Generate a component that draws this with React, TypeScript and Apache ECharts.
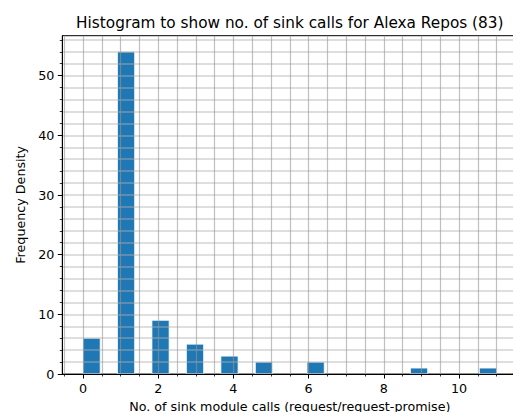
import React, { useEffect, useRef } from 'react';
import * as echarts from 'echarts';

const callCounts = [0, 1, 2, 3, 4, 5, 6, 9, 11];
const frequencies = [6, 54, 9, 5, 3, 2, 2, 1, 1];
const binCount = 24;
const xTickValues = [0, 2, 4, 6, 8, 10];
const yTickValues = [0, 10, 20, 30, 40, 50];
const titleText = 'Histogram to show no. of sink calls for Alexa Repos (83)';
const xName = 'No. of sink module calls (request/request-promise)';
const yName = 'Frequency Density';

const FONT = 'DejaVu Sans';

export default function App() {
  const ref = useRef<HTMLDivElement>(null);
  useEffect(() => {
    const chart = echarts.init(ref.current!, null, { renderer: 'svg' });
    const lo = Math.min(...callCounts);
    const hi = Math.max(...callCounts);
    const bw = (hi - lo) / binCount;
    const bars = callCounts.map((v, i) => {
      const b = Math.min(binCount - 1, Math.floor((v - lo) / bw));
      return [lo + b * bw, lo + (b + 1) * bw, frequencies[i]];
    });
    const xPad = (hi - lo) * 0.05;
    const yMax = Math.max(...frequencies) * 1.05;
    const gridLeft = 62.3;
    const gridTop = 35.7;
    const gridWidth = 455;
    const gridHeight = 338.3;

    const xGrid = { color: 'rgba(150,150,150,0.6)', width: 1.2 };
    const yGrid = { color: 'rgba(176,176,176,0.55)', width: 1.6 };

    chart.setOption({
      animation: false,
      textStyle: { fontFamily: FONT },
      grid: {
        left: gridLeft,
        top: gridTop,
        width: gridWidth,
        height: gridHeight,
        outerBoundsMode: 'none',
        containLabel: false,
        show: true,
        borderColor: '#000',
        borderWidth: 1,
        backgroundColor: 'transparent',
      },
      graphic: [
        {
          type: 'text',
          x: gridLeft + gridWidth / 2,
          y: 22.9,
          style: {
            text: titleText,
            textAlign: 'center',
            textVerticalAlign: 'middle',
            fontFamily: FONT,
            fontSize: 15.3,
            fill: '#000',
          },
        },
      ],
      xAxis: {
        type: 'value',
        min: lo - xPad,
        max: hi + xPad,
        splitNumber: 5,
        z: 5,
        name: xName,
        nameLocation: 'middle',
        nameGap: 25,
        nameTextStyle: { fontFamily: FONT, fontSize: 12.7, color: '#000' },
        axisLine: { show: true, onZero: false, lineStyle: { color: '#000', width: 1 } },
        axisTick: { show: true, length: 4.5, customValues: xTickValues, lineStyle: { color: '#000', width: 1 } },
        minorTick: { show: true, splitNumber: 4, length: 2.5, lineStyle: { color: '#000', width: 0.8 } },
        axisLabel: {
          customValues: xTickValues,
          margin: 8,
          fontFamily: FONT,
          fontSize: 12.7,
          color: '#000',
        },
        splitLine: { show: true, lineStyle: xGrid },
        minorSplitLine: { show: true, lineStyle: xGrid },
      },
      yAxis: {
        type: 'value',
        min: 0,
        max: yMax,
        splitNumber: 5,
        z: 5,
        name: yName,
        nameLocation: 'middle',
        nameGap: 29,
        nameTextStyle: { fontFamily: FONT, fontSize: 12.7, color: '#000' },
        axisLine: { show: true, onZero: false, lineStyle: { color: '#000', width: 1 } },
        axisTick: { show: true, length: 4.5, customValues: yTickValues, lineStyle: { color: '#000', width: 1 } },
        minorTick: { show: true, splitNumber: 5, length: 2.5, lineStyle: { color: '#000', width: 0.8 } },
        axisLabel: {
          customValues: yTickValues,
          margin: 8,
          fontFamily: FONT,
          fontSize: 12.7,
          color: '#000',
        },
        splitLine: { show: true, lineStyle: yGrid },
        minorSplitLine: { show: true, lineStyle: yGrid },
      },
      series: [
        {
          type: 'custom',
          clip: true,
          z: 2,
          data: bars,
          encode: { x: [0, 1], y: 2 },
          renderItem: (params: any, api: any) => {
            const x0 = api.value(0);
            const x1 = api.value(1);
            const h = api.value(2);
            const p0 = api.coord([x0, 0]);
            const p1 = api.coord([x1, h]);
            return {
              type: 'rect',
              shape: {
                x: p0[0],
                y: p1[1],
                width: p1[0] - p0[0],
                height: p0[1] - p1[1],
              },
              style: { fill: '#1f77b4', stroke: '#ffffff', lineWidth: 0.8 },
            };
          },
        },
      ],
    });
    return () => chart.dispose();
  }, []);
  return (
    <div
      ref={ref}
      style={{ position: 'fixed', left: 0, top: 0, width: 513, height: 412, background: '#fff' }}
    />
  );
}
